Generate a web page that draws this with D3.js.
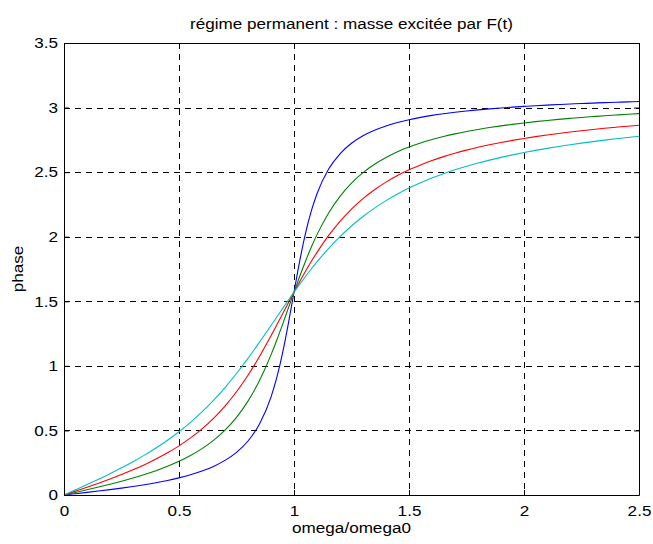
<!DOCTYPE html>
<html>
<head>
<meta charset="utf-8">
<script src="https://cdn.jsdelivr.net/npm/d3@7"></script>
<style>
  body { margin: 0; background: #fff; }
  svg { display: block; }
  text { font-family: "Liberation Sans", Arial, Helvetica, sans-serif; fill: #000; }
</style>
</head>
<body>
<svg id="chart" width="653" height="544"></svg>
<script>
const titleText = "régime permanent : masse excitée par F(t)";
const xLabel = "omega/omega0";
const yLabel = "phase";
const xTicks = [0, 0.5, 1, 1.5, 2, 2.5];
const yTicks = [0, 0.5, 1, 1.5, 2, 2.5, 3, 3.5];

const omega = [0,0.05,0.1,0.15,0.2,0.25,0.3,0.35,0.4,0.45,0.5,0.55,0.6,0.65,0.7,0.75,0.8,0.85,0.9,0.925,0.95,0.975,1.0,1.025,1.05,1.075,1.1,1.15,1.2,1.25,1.3,1.35,1.4,1.45,1.5,1.55,1.6,1.65,1.7,1.75,1.8,1.85,1.9,1.95,2.0,2.05,2.1,2.15,2.2,2.25,2.3,2.35,2.4,2.45,2.5];

const phaseBlue = [0,0.0100,0.0202,0.0307,0.0416,0.0533,0.0658,0.0796,0.0950,0.1124,0.1326,0.1564,0.1853,0.2214,0.2679,0.3303,0.4182,0.5497,0.7584,0.9081,1.0967,1.3228,1.5708,1.8129,2.0249,2.1974,2.3329,2.5221,2.6423,2.7234,2.7812,2.8244,2.8578,2.8844,2.9060,2.9241,2.9393,2.9523,2.9636,2.9735,2.9822,2.9900,2.9970,3.0033,3.0090,3.0143,3.0190,3.0235,3.0275,3.0313,3.0348,3.0380,3.0411,3.0440,3.0466];

const phaseGreen = [0,0.0200,0.0404,0.0613,0.0831,0.1063,0.1311,0.1582,0.1882,0.2220,0.2606,0.3055,0.3588,0.4230,0.5021,0.6011,0.7267,0.8863,1.0852,1.1988,1.3196,1.4449,1.5708,1.6937,1.8102,1.9181,2.0161,2.1822,2.3128,2.4149,2.4958,2.5607,2.6135,2.6581,2.6941,2.7254,2.7523,2.7757,2.7962,2.8144,2.8306,2.8451,2.8583,2.8702,2.8810,2.8909,2.9001,2.9085,2.9163,2.9236,2.9303,2.9367,2.9426,2.9481,2.9534];

const phaseRed = [0,0.0301,0.0605,0.0918,0.1244,0.1587,0.1953,0.2349,0.2783,0.3264,0.3805,0.4419,0.5124,0.5940,0.6889,0.7995,0.9273,1.0725,1.2324,1.3163,1.4014,1.4866,1.5708,1.6529,1.7321,1.8076,1.8788,2.0080,2.1193,2.2143,2.2950,2.3639,2.4228,2.4736,2.5176,2.5561,2.5899,2.6200,2.6467,2.6707,2.6924,2.7119,2.7298,2.7461,2.7611,2.7749,2.7876,2.7995,2.8105,2.8208,2.8304,2.8394,2.8478,2.8558,2.8633];

const phaseCyan = [0,0.0401,0.0806,0.1222,0.1651,0.2102,0.2579,0.3089,0.3640,0.4240,0.4900,0.5628,0.6435,0.7331,0.8321,0.9408,1.0584,1.1834,1.3128,1.3781,1.4432,1.5076,1.5708,1.6325,1.6922,1.7498,1.8051,1.9080,2.0006,2.0832,2.1566,2.2217,2.2794,2.3308,2.3766,2.4176,2.4544,2.4877,2.5178,2.5453,2.5702,2.5932,2.6142,2.6337,2.6516,2.6683,2.6838,2.6983,2.7118,2.7245,2.7364,2.7477,2.7582,2.7682,2.7776];

const seriesList = [
  { values: phaseBlue,  color: "#0000ff" },
  { values: phaseGreen, color: "#008000" },
  { values: phaseRed,   color: "#ff0000" },
  { values: phaseCyan,  color: "#00bfbf" }
];

const W = 653, H = 544;
const m = { left: 64, right: 14, top: 43, bottom: 49 };
const pw = W - m.left - m.right, ph = H - m.top - m.bottom;
const FS = 15, SX = 1.14;

const svg = d3.select("#chart");
const x = d3.scaleLinear().domain([0, 2.5]).range([m.left, m.left + pw]);
const y = d3.scaleLinear().domain([0, 3.5]).range([m.top + ph, m.top]);

// grid
const grid = svg.append("g").attr("class", "grid");
grid.selectAll("line.vx").data(xTicks.slice(1, -1)).enter().append("line")
  .attr("x1", d => x(d) + 0.5).attr("x2", d => x(d) + 0.5)
  .attr("y1", m.top).attr("y2", m.top + ph)
  .attr("stroke", "#000").attr("stroke-width", 1).attr("stroke-dasharray", "6,5");
grid.selectAll("line.hy").data(yTicks.slice(1, -1)).enter().append("line")
  .attr("y1", d => Math.round(y(d)) + 0.5).attr("y2", d => Math.round(y(d)) + 0.5)
  .attr("x1", m.left).attr("x2", m.left + pw)
  .attr("stroke", "#000").attr("stroke-width", 1).attr("stroke-dasharray", "6,5");

// lines
const line = d3.line().x((d, i) => x(omega[i])).y(d => y(d)).curve(d3.curveMonotoneX);
svg.append("g").selectAll("path").data(seriesList).enter().append("path")
  .attr("d", s => line(s.values))
  .attr("fill", "none").attr("stroke", s => s.color).attr("stroke-width", 1.1);

// axes (ticks inward)
const tickLen = 5;
const xAxisB = d3.axisBottom(x).tickValues(xTicks).tickFormat(d3.format("")).tickSizeInner(-tickLen).tickSizeOuter(0).tickPadding(10);
const xAxisT = d3.axisTop(x).tickValues(xTicks).tickFormat("").tickSizeInner(-tickLen).tickSizeOuter(0);
const yAxisL = d3.axisLeft(y).tickValues(yTicks).tickFormat(d3.format("")).tickSizeInner(-tickLen).tickSizeOuter(0).tickPadding(6);
const yAxisR = d3.axisRight(y).tickValues(yTicks).tickFormat("").tickSizeInner(-tickLen).tickSizeOuter(0);

function styleAxis(g) {
  g.selectAll("path").attr("stroke", "#000").attr("stroke-width", 1);
  g.selectAll("line").attr("stroke", "#000");
  g.selectAll("text").style("font-size", FS + "px").attr("fill", "#000")
    .each(function () {
      const t = d3.select(this);
      const xv = +t.attr("x") || 0;
      t.attr("x", xv / SX).attr("transform", `scale(${SX},1)`);
    });
}
svg.append("g").attr("transform", `translate(0,${m.top + ph})`).call(xAxisB).call(styleAxis);
svg.append("g").attr("transform", `translate(0,${m.top})`).call(xAxisT).call(styleAxis);
svg.append("g").attr("transform", `translate(${m.left},0)`).call(yAxisL).call(styleAxis);
svg.append("g").attr("transform", `translate(${m.left + pw},0)`).call(yAxisR).call(styleAxis);

// titles
svg.append("text").attr("transform", `translate(${m.left + pw / 2},29) scale(${SX},1)`).attr("text-anchor", "middle")
  .style("font-size", FS + "px").text(titleText);
svg.append("text").attr("transform", `translate(${m.left + pw / 2},533) scale(${SX},1)`).attr("text-anchor", "middle")
  .style("font-size", FS + "px").text(xLabel);
svg.append("text").attr("transform", `translate(23,${m.top + ph / 2}) rotate(-90) scale(${SX},1)`).attr("text-anchor", "middle")
  .style("font-size", FS + "px").text(yLabel);
</script>
</body>
</html>
